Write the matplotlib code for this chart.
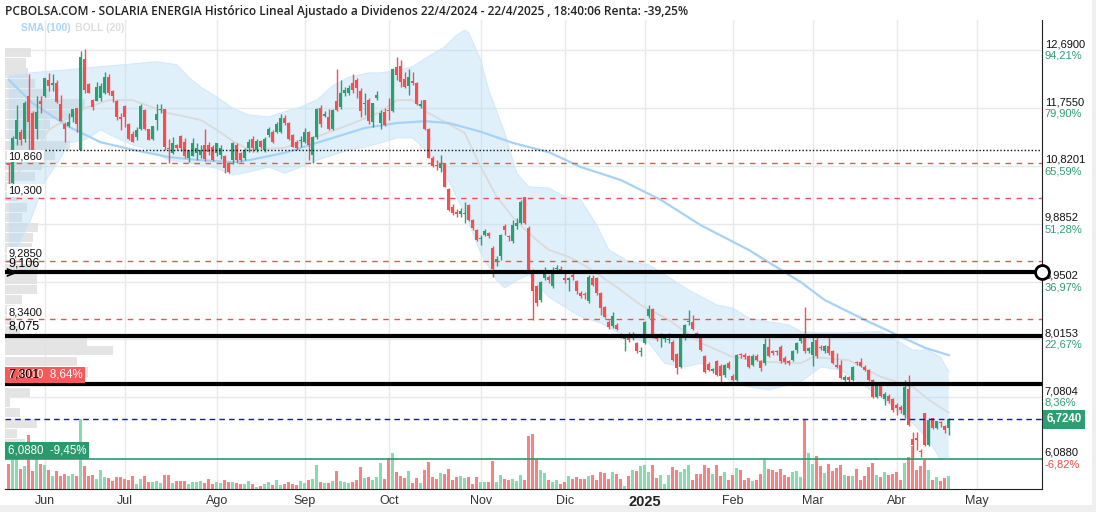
import numpy as np
import pandas as pd
import matplotlib
matplotlib.use("Agg")
import matplotlib.pyplot as plt
from matplotlib.transforms import blended_transform_factory
from matplotlib.patches import Rectangle

plt.rcParams['font.family'] = ['Liberation Sans', 'DejaVu Sans']

# ------------------------------------------------------------------ data
holidays = ["2024-12-25", "2024-12-26", "2025-01-01", "2025-04-18", "2025-04-21", "2025-05-01"]
first_day = "2024-05-21"
axis_end_day = "2025-05-30"

opens = [
    10.86, 10.54, 11.26, 11.37, 11.26, 11.95, 11.67, 11.42, 11.87, 11.95,
    12.21, 12.12, 12.16, 11.82, 11.50, 11.46, 11.60, 11.75, 11.08, 12.54,
    12.14, 11.88, 11.87, 11.91, 11.99, 12.26, 12.02, 11.86, 11.61, 11.79,
    11.50, 11.33, 11.29, 11.41, 11.72, 11.41, 11.26, 11.56, 11.72, 11.73,
    11.11, 11.03, 11.16, 11.30, 11.21, 10.94, 10.98, 11.02, 11.00, 11.15,
    11.15, 11.12, 11.02, 11.00, 10.97, 10.86, 10.91, 11.16, 11.02, 10.94,
    11.10, 11.25, 11.08, 11.22, 11.07, 11.32, 11.37, 11.37, 11.37, 11.59,
    11.51, 11.31, 11.21, 11.22, 11.20, 11.37, 10.99, 11.28, 11.75, 11.63,
    11.61, 11.42, 11.87, 11.77, 11.99, 12.00, 12.16, 12.21, 12.03, 11.82,
    11.89, 11.53, 11.91, 11.51, 11.69, 11.72, 11.71, 12.42, 12.43, 12.22,
    12.11, 12.19, 12.15, 11.79, 11.88, 11.41, 10.94, 10.84, 10.78, 10.86,
    10.45, 10.16, 10.08, 10.04, 10.04, 10.19, 9.94, 9.79, 9.63, 9.70,
    9.74, 9.49, 9.26, 9.36, 9.85, 9.68, 9.61, 9.84, 9.90, 10.31,
    9.81, 9.14, 8.87, 8.65, 9.00, 9.02, 8.88, 9.15, 9.16, 9.00,
    8.98, 9.04, 8.96, 8.77, 8.74, 8.63, 9.00, 9.00, 8.76, 8.54,
    8.30, 8.23, 8.25, 8.09, 8.02, 8.05, 8.04, 7.96, 7.81, 7.96,
    8.39, 8.50, 8.05, 8.04, 8.02, 8.00, 7.98, 7.78, 7.57, 8.03,
    8.29, 8.30, 8.12, 8.05, 7.75, 7.62, 7.51, 7.66, 7.59, 7.44,
    7.63, 7.42, 7.36, 7.77, 7.76, 7.74, 7.60, 7.75, 7.66, 7.63,
    7.90, 7.83, 7.82, 7.90, 7.72, 7.66, 7.69, 7.85, 7.99, 8.09,
    7.82, 7.76, 8.00, 7.90, 7.83, 7.91, 7.82, 7.60, 7.60, 7.36,
    7.40, 7.36, 7.65, 7.65, 7.57, 7.52, 7.36, 7.09, 7.26, 7.05,
    7.10, 7.05, 6.95, 6.92, 6.79, 7.22, 6.40, 6.42, 6.20, 6.82,
    6.31, 6.74, 6.58, 6.67, 6.62, 6.59]
highs = [
    10.87, 11.30, 11.80, 11.42, 11.86, 12.31, 11.70, 11.94, 11.94, 12.24,
    12.32, 12.31, 12.20, 11.96, 11.53, 11.67, 11.74, 11.76, 12.68, 12.70,
    12.16, 11.90, 12.18, 12.15, 12.34, 12.31, 12.04, 11.88, 11.67, 11.80,
    11.51, 11.38, 11.45, 11.82, 11.73, 11.42, 11.46, 11.82, 11.82, 11.74,
    11.26, 11.29, 11.17, 11.31, 11.27, 11.08, 11.27, 11.19, 11.15, 11.41,
    11.20, 11.15, 11.19, 11.15, 11.00, 10.88, 11.20, 11.18, 11.05, 11.10,
    11.25, 11.30, 11.26, 11.24, 11.28, 11.45, 11.40, 11.52, 11.66, 11.64,
    11.53, 11.33, 11.23, 11.30, 11.43, 11.38, 11.30, 11.75, 11.80, 11.70,
    11.74, 11.74, 12.39, 12.20, 12.10, 12.12, 12.30, 12.24, 12.07, 11.99,
    11.91, 11.84, 12.02, 11.72, 11.75, 11.91, 12.40, 12.58, 12.53, 12.34,
    12.39, 12.34, 12.18, 11.88, 11.89, 11.43, 10.97, 10.91, 10.99, 10.87,
    10.46, 10.20, 10.12, 10.14, 10.24, 10.20, 9.96, 9.80, 9.70, 9.80,
    9.75, 9.52, 9.36, 9.72, 9.88, 9.70, 9.95, 9.98, 10.26, 10.31,
    9.84, 9.16, 8.90, 8.96, 9.18, 9.06, 9.18, 9.22, 9.20, 9.08,
    9.03, 9.08, 8.98, 8.80, 8.78, 9.06, 9.05, 9.02, 8.78, 8.56,
    8.33, 8.46, 8.28, 8.12, 8.08, 8.14, 8.14, 7.98, 7.90, 8.32,
    8.57, 8.52, 8.08, 8.12, 8.08, 8.12, 8.00, 7.80, 8.05, 8.27,
    8.49, 8.41, 8.14, 8.07, 7.77, 7.65, 7.56, 7.68, 7.62, 7.62,
    7.66, 7.45, 7.78, 7.80, 7.80, 7.76, 7.78, 7.78, 7.68, 8.03,
    8.03, 7.85, 7.84, 7.93, 7.75, 7.68, 7.84, 7.97, 8.11, 8.54,
    7.90, 8.11, 8.11, 7.93, 7.93, 8.11, 7.85, 7.79, 7.68, 7.44,
    7.42, 7.59, 7.67, 7.71, 7.60, 7.54, 7.38, 7.30, 7.32, 7.16,
    7.14, 7.07, 6.99, 6.96, 7.36, 7.44, 6.52, 6.52, 6.25, 6.83,
    6.74, 6.75, 6.70, 6.69, 6.63, 6.74]
lows = [
    10.53, 10.52, 11.15, 11.15, 11.21, 11.07, 11.07, 11.26, 11.67, 11.93,
    12.02, 12.02, 11.83, 11.54, 11.21, 11.45, 11.53, 11.37, 11.07, 11.99,
    11.99, 11.72, 11.86, 11.86, 11.98, 11.96, 11.85, 11.56, 11.40, 11.45,
    11.24, 11.21, 11.24, 11.40, 11.40, 11.24, 11.24, 11.40, 11.67, 11.07,
    10.86, 11.01, 11.08, 11.06, 10.94, 10.88, 10.97, 10.91, 10.95, 10.90,
    11.00, 10.90, 10.98, 10.93, 10.70, 10.70, 10.85, 10.86, 10.88, 10.92,
    11.05, 11.05, 11.04, 11.10, 11.05, 11.28, 11.18, 11.35, 11.35, 11.48,
    11.24, 11.12, 11.08, 11.13, 11.18, 10.92, 10.86, 11.26, 11.45, 11.60,
    11.40, 11.40, 11.70, 11.74, 11.95, 11.97, 12.00, 11.92, 11.61, 11.64,
    11.50, 11.45, 11.89, 11.42, 11.46, 11.56, 11.69, 12.21, 12.10, 12.07,
    11.96, 12.12, 11.80, 11.75, 11.40, 10.94, 10.80, 10.75, 10.72, 10.47,
    10.09, 10.02, 9.99, 10.00, 9.89, 9.92, 9.79, 9.60, 9.54, 9.68,
    9.66, 9.02, 9.20, 9.30, 9.70, 9.60, 9.58, 9.80, 9.88, 9.88,
    9.10, 8.33, 8.55, 8.62, 8.98, 8.92, 8.85, 9.10, 9.08, 8.92,
    8.80, 8.98, 8.75, 8.68, 8.66, 8.60, 8.87, 8.74, 8.41, 8.36,
    8.18, 8.20, 8.17, 8.03, 7.82, 7.97, 8.00, 7.80, 7.75, 7.94,
    8.36, 8.03, 7.99, 7.90, 7.98, 7.95, 7.66, 7.46, 7.55, 8.00,
    8.25, 8.17, 8.03, 7.83, 7.47, 7.50, 7.48, 7.42, 7.31, 7.40,
    7.54, 7.34, 7.34, 7.72, 7.70, 7.55, 7.58, 7.66, 7.50, 7.60,
    7.73, 7.76, 7.76, 7.64, 7.62, 7.60, 7.67, 7.80, 7.95, 7.80,
    7.79, 7.58, 7.72, 7.85, 7.80, 7.77, 7.62, 7.55, 7.37, 7.33,
    7.33, 7.34, 7.60, 7.57, 7.50, 7.34, 7.07, 7.07, 7.08, 6.96,
    6.98, 6.85, 6.80, 6.83, 6.75, 6.61, 6.12, 6.23, 6.12, 6.30,
    6.29, 6.56, 6.56, 6.60, 6.50, 6.47]
closes = [
    10.83, 11.27, 11.56, 11.24, 11.83, 11.53, 11.07, 11.69, 11.82, 12.23,
    12.11, 12.15, 11.85, 11.55, 11.41, 11.52, 11.73, 11.50, 12.58, 12.05,
    12.00, 11.77, 12.09, 12.11, 12.26, 11.99, 11.94, 11.60, 11.58, 11.60,
    11.26, 11.21, 11.40, 11.79, 11.41, 11.24, 11.46, 11.66, 11.73, 11.12,
    11.09, 11.18, 11.10, 11.10, 10.97, 11.08, 11.18, 11.10, 11.08, 10.93,
    11.05, 10.92, 11.18, 11.10, 10.78, 10.72, 11.18, 10.92, 10.92, 11.08,
    11.21, 11.10, 11.22, 11.12, 11.26, 11.42, 11.21, 11.50, 11.59, 11.51,
    11.26, 11.13, 11.10, 11.24, 11.37, 11.16, 11.28, 11.73, 11.50, 11.65,
    11.42, 11.72, 11.72, 12.00, 12.04, 12.07, 12.04, 12.07, 11.71, 11.84,
    11.54, 11.83, 11.96, 11.68, 11.48, 11.70, 12.39, 12.29, 12.18, 12.09,
    12.26, 12.15, 11.82, 11.82, 11.41, 10.94, 10.82, 10.82, 10.86, 10.48,
    10.11, 10.05, 10.04, 10.09, 10.06, 9.94, 9.81, 9.62, 9.65, 9.77,
    9.69, 9.15, 9.31, 9.70, 9.78, 9.67, 9.86, 9.89, 10.23, 9.90,
    9.14, 8.79, 8.60, 8.94, 9.14, 8.98, 9.14, 9.17, 9.13, 8.98,
    9.00, 9.03, 8.79, 8.71, 8.73, 9.03, 8.89, 8.76, 8.53, 8.38,
    8.21, 8.39, 8.19, 8.07, 8.05, 8.00, 8.05, 7.82, 7.83, 8.30,
    8.50, 8.05, 8.02, 8.06, 8.03, 8.01, 7.68, 7.56, 8.03, 8.25,
    8.30, 8.19, 8.05, 7.85, 7.49, 7.52, 7.53, 7.44, 7.42, 7.60,
    7.56, 7.36, 7.76, 7.76, 7.73, 7.57, 7.75, 7.68, 7.55, 7.94,
    7.75, 7.79, 7.81, 7.66, 7.65, 7.63, 7.82, 7.96, 8.03, 7.83,
    7.87, 7.98, 7.74, 7.87, 7.91, 7.79, 7.64, 7.57, 7.39, 7.40,
    7.36, 7.57, 7.63, 7.59, 7.52, 7.36, 7.09, 7.28, 7.10, 7.14,
    7.02, 6.87, 6.90, 6.87, 7.24, 6.63, 6.31, 6.39, 6.19, 6.31,
    6.71, 6.58, 6.69, 6.66, 6.55, 6.724]
volumes = [
    25, 44, 33, 20, 23, 54, 18, 32, 25, 24,
    19, 13, 18, 13, 15, 13, 15, 13, 70, 23,
    13, 14, 10, 19, 12, 11, 8, 12, 12, 10,
    9, 13, 5, 10, 13, 7, 7, 8, 6, 14,
    14, 6, 8, 8, 8, 5, 7, 7, 8, 6,
    10, 5, 7, 6, 9, 7, 7, 6, 5, 5,
    8, 5, 2, 3, 5, 7, 4, 9, 4, 5,
    7, 5, 4, 8, 6, 9, 10, 24, 7, 6,
    6, 8, 18, 8, 7, 6, 7, 9, 22, 11,
    12, 9, 12, 26, 10, 31, 36, 17, 13, 11,
    18, 6, 11, 6, 19, 27, 12, 10, 16, 15,
    20, 9, 12, 13, 11, 12, 5, 12,
    7, 7, 7, 28, 7, 14, 10, 9, 10, 8,
    14, 9, 53, 55, 30, 19, 16, 9, 7, 9,
    5, 7, 13, 10, 12, 10, 10, 13, 14, 9,
    17, 16, 10, 17, 15, 10, 3, 13, 19, 18,
    23, 24, 17, 24, 11, 14, 5, 14, 22, 19,
    17, 20, 24, 9, 15, 15, 24, 21, 15, 24,
    13, 17, 9, 14, 21, 19, 9, 11, 8, 9,
    15, 30, 20, 19, 17, 20, 14, 12, 17, 18,
    12, 70, 36, 25, 33, 23, 16, 25, 18, 21,
    24, 14, 13, 13, 20, 9, 13, 22, 26, 14,
    12, 17, 14, 15, 17, 9, 26, 32, 43, 19,
    23, 29, 19, 9, 12, 8, 11, 13]

# Bollinger (20) and SMA (100)
boll_upper_dates = [
    "2024-05-21", "2024-06-03", "2024-06-11", "2024-06-21", "2024-07-02", "2024-07-11",
    "2024-07-18", "2024-07-23", "2024-07-26", "2024-08-01", "2024-08-07", "2024-08-13",
    "2024-08-20", "2024-08-26", "2024-08-30", "2024-09-05", "2024-09-11", "2024-09-17",
    "2024-09-24", "2024-09-27", "2024-10-04", "2024-10-09", "2024-10-15", "2024-10-21",
    "2024-10-24", "2024-10-28", "2024-10-29", "2024-11-01", "2024-11-05", "2024-11-11",
    "2024-11-14", "2024-11-19", "2024-11-26", "2024-12-02", "2024-12-06", "2024-12-12",
    "2024-12-17", "2024-12-24", "2025-01-03", "2025-01-09", "2025-01-17", "2025-01-28",
    "2025-02-03", "2025-02-07", "2025-02-14", "2025-02-21", "2025-02-26", "2025-03-05",
    "2025-03-14", "2025-03-26", "2025-04-01", "2025-04-07", "2025-04-11", "2025-04-16",
    "2025-04-22"]
boll_upper = [
    12.29, 12.34, 12.37, 12.42, 12.46, 12.50, 12.45, 12.25, 12.09, 11.93, 11.75, 11.64,
    11.61, 11.69, 11.77, 11.88, 12.11, 12.25, 12.32, 12.32, 12.37, 12.42, 12.59, 12.74,
    12.93, 13.01, 12.97, 12.53, 12.04, 11.35, 10.70, 10.48, 10.46, 10.32, 10.27, 9.86,
    9.46, 9.27, 9.22, 9.06, 8.81, 8.57, 8.52, 8.36, 8.30, 8.25, 8.14, 8.12,
    8.12, 8.14, 8.00, 7.84, 7.84, 7.72, 7.49]
boll_lower_dates = [
    "2024-05-21", "2024-05-23", "2024-05-28", "2024-06-03", "2024-06-07", "2024-06-11",
    "2024-06-17", "2024-06-21", "2024-06-27", "2024-07-03", "2024-07-09", "2024-07-16",
    "2024-07-22", "2024-07-26", "2024-08-01", "2024-08-07", "2024-08-13", "2024-08-20",
    "2024-08-26", "2024-08-30", "2024-09-05", "2024-09-11", "2024-09-17", "2024-09-23",
    "2024-09-27", "2024-10-03", "2024-10-09", "2024-10-15", "2024-10-21", "2024-10-28",
    "2024-11-01", "2024-11-07", "2024-11-11", "2024-11-14", "2024-11-19", "2024-11-26",
    "2024-12-02", "2024-12-06", "2024-12-13", "2024-12-24", "2025-01-03", "2025-01-09",
    "2025-01-16", "2025-01-22", "2025-01-28", "2025-02-03", "2025-02-07", "2025-02-14",
    "2025-02-26", "2025-03-05", "2025-03-12", "2025-03-19", "2025-03-26", "2025-04-01",
    "2025-04-07", "2025-04-11", "2025-04-16", "2025-04-22"]
boll_lower = [
    9.29, 9.46, 9.86, 10.56, 10.95, 11.19, 11.24, 11.40, 11.27, 11.16, 11.08, 10.91,
    10.88, 10.83, 10.78, 10.67, 10.72, 10.80, 10.70, 10.80, 10.91, 10.99, 11.08, 11.12,
    11.19, 11.27, 11.27, 11.03, 10.70, 10.06, 9.41, 8.97, 8.85, 8.97, 9.06, 8.70,
    8.54, 8.38, 8.28, 8.04, 7.96, 7.63, 7.57, 7.63, 7.52, 7.31, 7.25, 7.20,
    7.33, 7.57, 7.52, 7.31, 7.08, 6.87, 6.66, 6.39, 6.07, 6.12]
boll_mid_dates = [
    "2024-05-21", "2024-05-28", "2024-06-04", "2024-06-17", "2024-06-25", "2024-07-03",
    "2024-07-16", "2024-07-26", "2024-08-01", "2024-08-07", "2024-08-13", "2024-08-26",
    "2024-09-05", "2024-09-17", "2024-09-27", "2024-10-03", "2024-10-09", "2024-10-15",
    "2024-10-28", "2024-11-01", "2024-11-07", "2024-11-13", "2024-11-19", "2024-11-26",
    "2024-12-03", "2024-12-10", "2024-12-19", "2024-12-31", "2025-01-10", "2025-01-22",
    "2025-02-03", "2025-02-14", "2025-02-26", "2025-03-03", "2025-03-14", "2025-03-26",
    "2025-04-07", "2025-04-11", "2025-04-22"]
boll_mid = [
    10.54, 10.91, 11.40, 11.75, 11.88, 11.88, 11.67, 11.56, 11.40, 11.22, 11.08, 11.11,
    11.29, 11.48, 11.69, 11.88, 11.88, 11.67, 11.35, 10.80, 10.32, 9.99, 9.73, 9.46,
    9.35, 9.17, 8.86, 8.57, 8.33, 7.96, 7.73, 7.65, 7.63, 7.73, 7.68, 7.41,
    7.25, 7.04, 6.83]
sma_dates = [
    "2024-05-21", "2024-05-29", "2024-06-11", "2024-06-21", "2024-07-03", "2024-07-16",
    "2024-07-26", "2024-08-07", "2024-08-13", "2024-08-26", "2024-09-05", "2024-09-17",
    "2024-09-23", "2024-10-03", "2024-10-14", "2024-10-22", "2024-11-01", "2024-11-13",
    "2024-11-26", "2024-12-06", "2024-12-20", "2025-01-08", "2025-01-22", "2025-02-07",
    "2025-02-26", "2025-03-06", "2025-03-20", "2025-04-04", "2025-04-10", "2025-04-22"]
sma_values = [
    12.21, 11.83, 11.45, 11.20, 11.08, 10.96, 10.91, 10.88, 10.91, 11.03, 11.19, 11.35,
    11.43, 11.51, 11.54, 11.51, 11.37, 11.19, 11.04, 10.80, 10.59, 10.27, 9.86, 9.46,
    8.94, 8.65, 8.33, 8.00, 7.88, 7.76]

# volume at price (left profile)
vp_levels = [
    12.65, 12.48, 12.32, 12.15, 11.99, 11.82, 11.65, 11.49, 11.32, 11.15,
    10.99, 10.82, 10.65, 10.49, 10.32, 10.15, 9.99, 9.82, 9.66, 9.49,
    9.32, 9.16, 8.99, 8.82, 8.66, 8.49, 8.32, 8.16, 7.99, 7.83,
    7.66, 7.49, 7.33, 7.16, 6.99, 6.83, 6.66, 6.49, 6.33]
vp_volume = [
    26, 21, 23, 30, 45, 80, 68, 45, 40, 65,
    50, 37, 30, 8, 13, 22, 17, 33, 28, 27,
    12, 33, 32, 32, 17, 10, 10, 15, 82, 108,
    72, 83, 15, 25, 5, 15, 32, 12, 20]

month_starts = ["2024-06-01", "2024-07-01", "2024-08-01", "2024-09-01", "2024-10-01", "2024-11-01",
                "2024-12-01", "2025-01-01", "2025-02-01", "2025-03-01", "2025-04-01", "2025-05-01"]
month_labels = ["Jun", "Jul", "Ago", "Sep", "Oct", "Nov", "Dic", "2025", "Feb", "Mar", "Abr", "May"]

red_levels = [10.860, 10.300, 9.285, 8.340]
red_labels = ["10,860", "10,300", "9,2850", "8,3400"]
black_levels = [9.106, 8.075, 7.301]
black_labels = ["9,106", "8,075", "7,301"]
dotted_level = 11.07
dotted_from = "2024-06-03"
last_price = 6.724
support_level = 6.088
right_values = [12.69, 11.755, 10.8201, 9.8852, 8.9502, 8.0153, 7.0804, 6.088]
right_pcts = ["94,21%", "79,90%", "65,59%", "51,28%", "36,97%", "22,67%", "8,36%", "-6,82%"]
box_red_text = "7,3010  8,64%"
box_green_text = "6,0880  -9,45%"
title = ("PCBOLSA.COM - SOLARIA ENERGIA Histórico Lineal Ajustado a Dividenos "
         "22/4/2024 - 22/4/2025 , 18:40:06 Renta: -39,25%")

# ------------------------------------------------------------------ styles
GREEN = "#28a070"
RED = "#f25050"
VGREEN = "#86dcae"
VRED = "#f88282"
GRID = "#e9e9e9"

# ------------------------------------------------------------------ figure
W, H = 1096, 512
fig = plt.figure(figsize=(W / 100, H / 100), dpi=100)
fig.patch.set_facecolor("white")
ax = fig.add_axes([5 / W, 23 / H, 1037 / W, 469 / H])
XLIM = (-0.925, 258.3)
YLIM = (5.598, 13.175)

cal = pd.bdate_range(first_day, axis_end_day)
cal = cal[~cal.isin(pd.to_datetime(holidays))]


def to_pos(dates):
    return np.asarray(cal.searchsorted(pd.to_datetime(dates)))


xs = np.arange(len(closes))
o = np.array(opens); h = np.array(highs); l = np.array(lows); c = np.array(closes)
up = c >= o

bl = blended_transform_factory(ax.transAxes, ax.transData)   # x axes, y data
bv = blended_transform_factory(ax.transData, ax.transAxes)   # x data, y axes

# grid
mpos = to_pos(month_starts)
for p in mpos:
    ax.axvline(p, color=GRID, lw=1, zorder=0)
for v in right_values[:-1]:
    ax.axhline(v, color=GRID, lw=1, zorder=0)

# volume profile
ax.barh(vp_levels, np.array(vp_volume) / 1037.0, height=0.150, left=0,
        color="#e0e0e0", alpha=0.85, transform=bl, zorder=1)

# volume
ax.bar(xs, np.array(volumes) / 469.0, width=0.75, bottom=0,
       color=np.where(up, VGREEN, VRED), transform=bv, zorder=2)

# bollinger band
xu = to_pos(boll_upper_dates); xl = to_pos(boll_lower_dates)
ax.fill(np.r_[xu, xl[::-1]], np.r_[boll_upper, boll_lower[::-1]],
        color="#b3dbf7", alpha=0.40, lw=0, zorder=3)
ax.plot(xu, boll_upper, color="#d2e9fa", lw=0.8, zorder=3)
ax.plot(xl, boll_lower, color="#d2e9fa", lw=0.8, zorder=3)
ax.plot(to_pos(boll_mid_dates), boll_mid, color="#dadada", lw=1.3, zorder=4)
ax.plot(to_pos(sma_dates), sma_values, color="#a5d2f6", lw=1.6, zorder=4)

# horizontal levels
for lv, lb in zip(red_levels, red_labels):
    ax.axhline(lv, color="#f05050", lw=1, ls=(0, (4, 4)), zorder=9)
    ax.annotate(lb, xy=(0, lv), xycoords=bl, xytext=(2.5, 1.6), textcoords="offset points",
                ha="left", va="bottom", fontsize=8, color="#111",
                bbox=dict(boxstyle="square,pad=0.12", fc="white", ec="none"), zorder=11)
ax.plot([to_pos([dotted_from])[0], XLIM[1]], [dotted_level] * 2, color="#111", lw=1,
        ls=(0, (1, 1.5)), zorder=9)
ax.axhline(last_price, color="#1414c8", lw=1, ls=(0, (4, 3)), zorder=9)
ax.axhline(support_level, color="#2a9a6c", lw=1.2, zorder=9)

# candles
cols = np.where(up, GREEN, RED)
ax.vlines(xs, l, h, colors=cols, lw=1, zorder=7)
body_lo = np.minimum(o, c)
body_h = np.maximum(np.abs(c - o), 0.02)
ax.bar(xs, body_h, bottom=body_lo, width=0.72, color=cols, zorder=8)

# thick black levels
for lv, lb in zip(black_levels, black_labels):
    ax.axhline(lv, color="black", lw=3, zorder=10)
ax.annotate(box_red_text, xy=(0, black_levels[2]), xycoords=bl, xytext=(2, 2),
            textcoords="offset points", ha="left", va="bottom", fontsize=8.3, color="white",
            bbox=dict(boxstyle="square,pad=0.2", fc="#f45a5a", ec="none"), zorder=11)
for lv, lb in zip(black_levels, black_labels):
    ax.annotate(lb, xy=(0, lv), xycoords=bl, xytext=(2.5, 2.0), textcoords="offset points",
                ha="left", va="bottom", fontsize=9, color="black", zorder=12)
ax.annotate(box_green_text, xy=(0, support_level), xycoords=bl, xytext=(2, 1.5),
            textcoords="offset points", ha="left", va="bottom", fontsize=8.3, color="white",
            bbox=dict(boxstyle="square,pad=0.2", fc="#2a9a6c", ec="none"), zorder=11)
ax.plot([XLIM[1]], [black_levels[0]], marker="o", ms=10, mfc="white", mec="black", mew=2,
        clip_on=False, zorder=13)
ax.annotate(">", xy=(0, black_levels[0]), xycoords=bl, xytext=(0, -1), textcoords="offset points",
            ha="left", va="center", fontsize=12, fontweight="bold", color="black", zorder=13)

# right axis labels
for v, p in zip(right_values, right_pcts):
    ax.annotate(f"{v:.4f}".replace(".", ","), xy=(1, v), xycoords=bl, xytext=(2, 0.6),
                textcoords="offset points", ha="left", va="bottom", fontsize=8, color="#111",
                annotation_clip=False)
    ax.annotate(p, xy=(1, v), xycoords=bl, xytext=(2, -0.4), textcoords="offset points",
                ha="left", va="top", fontsize=8,
                color="#f04848" if p.startswith("-") else "#2e9e72", annotation_clip=False)
ax.annotate(f"{last_price:.4f}".replace(".", ","), xy=(1, last_price), xycoords=bl,
            xytext=(3, 0), textcoords="offset points", ha="left", va="center", fontsize=8.3,
            fontweight="bold", color="white", annotation_clip=False,
            bbox=dict(boxstyle="square,pad=0.3", fc="#2e9e72", ec="none"), zorder=12)

# axes look
ax.set_xlim(*XLIM)
ax.set_ylim(*YLIM)
ax.set_yticks([])
ax.set_xticks(mpos)
ax.set_xticklabels(month_labels)
ax.tick_params(axis="x", length=0, pad=4, labelsize=9, labelcolor="#333")
for t in ax.get_xticklabels():
    if t.get_text() == "2025":
        t.set_fontweight("bold")
        t.set_fontsize(10.5)
        t.set_color("#222")
for s in ("top", "left"):
    ax.spines[s].set_visible(False)
ax.spines["right"].set_color("#222")
ax.spines["bottom"].set_color("#222")

# header, legend, frame
fig.text(5 / W, 1 - 12 / H, title, ha="left", va="center", fontsize=8.6,
         family=["Open Sans", "DejaVu Sans"], fontweight="semibold", color="#222")
fig.text(21 / W, 1 - 28 / H, "SMA (100)", ha="left", va="center", fontsize=7.5,
         fontweight="bold", color="#a9d4f7")
fig.text(75 / W, 1 - 28 / H, "BOLL (20)", ha="left", va="center", fontsize=7.5,
         fontweight="bold", color="#dddddd")
fig.patches.append(Rectangle((0, 0), 1, 7 / H, transform=fig.transFigure,
                             fc="#efefef", ec="none", zorder=-1))
fig.patches.append(Rectangle((1092 / W, 0), 4 / W, 1, transform=fig.transFigure,
                             fc="#efefef", ec="none", zorder=-1))

fig.savefig("out.png", dpi=100, facecolor="white")
